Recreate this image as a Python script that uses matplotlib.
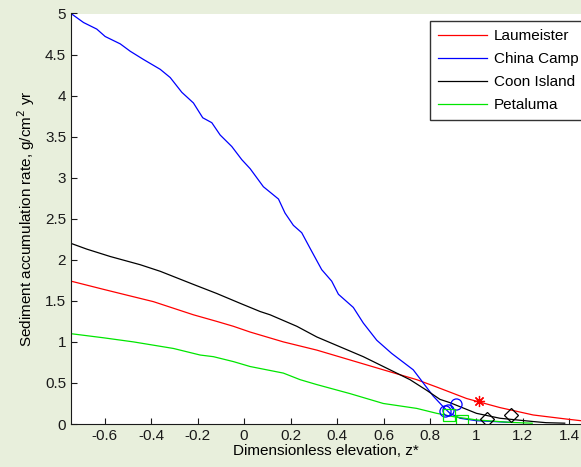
import numpy as np
import matplotlib.pyplot as plt
from matplotlib.ticker import FuncFormatter, MultipleLocator

plt.rcParams['font.family'] = ['Liberation Sans', 'DejaVu Sans']
plt.rcParams['axes.unicode_minus'] = False

# Laumeister (red)
laum_z = [-0.745, -0.605, -0.505, -0.39, -0.304, -0.218, -0.118, -0.046, 0.026, 0.169,
          0.313, 0.456, 0.599, 0.743, 0.829, 0.958, 1.101, 1.244, 1.388, 1.45]
laum_r = [1.74, 1.64, 1.57, 1.49, 1.41, 1.33, 1.25, 1.19, 1.12, 1.00,
          0.90, 0.78, 0.66, 0.54, 0.45, 0.31, 0.20, 0.11, 0.06, 0.04]

# China Camp (blue)
cc_z = [-0.745, -0.691, -0.634, -0.598, -0.533, -0.49, -0.433, -0.361, -0.318, -0.268,
        -0.218, -0.178, -0.139, -0.103, -0.053, -0.01, 0.026, 0.083, 0.148, 0.176,
        0.212, 0.248, 0.284, 0.334, 0.377, 0.406, 0.47, 0.513, 0.571, 0.635,
        0.728, 0.771, 0.814, 0.857, 0.886, 0.929, 1.0, 1.144]
cc_r = [5.0, 4.89, 4.81, 4.72, 4.63, 4.54, 4.44, 4.32, 4.22, 4.04,
        3.91, 3.73, 3.67, 3.52, 3.38, 3.22, 3.11, 2.89, 2.74, 2.57,
        2.42, 2.33, 2.14, 1.88, 1.74, 1.58, 1.42, 1.23, 1.02, 0.86,
        0.66, 0.50, 0.34, 0.21, 0.13, 0.07, 0.04, 0.02]

# Coon Island (black)
coon_z = [-0.745, -0.677, -0.576, -0.447, -0.361, -0.218, -0.118, -0.017, 0.069, 0.112,
          0.227, 0.313, 0.413, 0.513, 0.628, 0.714, 0.786, 0.843, 0.886, 1.0,
          1.101, 1.244, 1.30, 1.38]
coon_r = [2.20, 2.13, 2.04, 1.94, 1.86, 1.70, 1.59, 1.47, 1.37, 1.33,
          1.19, 1.06, 0.94, 0.82, 0.66, 0.54, 0.41, 0.30, 0.26, 0.13,
          0.07, 0.03, 0.016, 0.01]

# Petaluma (green)
pet_z = [-0.745, -0.605, -0.476, -0.39, -0.304, -0.189, -0.132, -0.046, 0.026, 0.169,
         0.241, 0.313, 0.456, 0.599, 0.743, 0.829, 0.9, 1.0, 1.144, 1.24]
pet_r = [1.10, 1.05, 1.00, 0.96, 0.92, 0.84, 0.82, 0.76, 0.70, 0.62,
         0.54, 0.48, 0.37, 0.25, 0.19, 0.13, 0.09, 0.05, 0.02, 0.01]

# measured points
laum_obs_z, laum_obs_r = [1.01], [0.285]
cc_obs_z, cc_obs_r = [0.865, 0.878, 0.912], [0.16, 0.17, 0.24]
coon_obs_z, coon_obs_r = [1.046, 1.150], [0.06, 0.11]
pet_obs_z, pet_obs_r = [0.880, 0.939], [0.105, 0.04]

bg = '#e8efdc'
fs = 11
fig = plt.figure(figsize=(5.81, 4.67), dpi=100, facecolor=bg)
ax = fig.add_axes([71/581, 43/467, 510/581, 410.5/467])

lw = 0.9
green = '#00e600'
ax.plot(laum_z, laum_r, color='#ff0000', lw=lw, label='Laumeister')
ax.plot(cc_z, cc_r, color='#0000ff', lw=lw, label='China Camp')
ax.plot(coon_z, coon_r, color='#000000', lw=lw, label='Coon Island')
ax.plot(pet_z, pet_r, color=green, lw=lw, label='Petaluma')

ax.plot(laum_obs_z, laum_obs_r, ls='none', marker=(8, 2, 0), ms=8, mec='#ff0000', mew=0.9)
ax.plot(cc_obs_z, cc_obs_r, ls='none', marker='o', ms=8, mfc='none', mec='#0000ff', mew=0.9)
ax.plot(coon_obs_z, coon_obs_r, ls='none', marker='D', ms=7, mfc='none', mec='#000000', mew=0.9)
ax.plot(pet_obs_z, pet_obs_r, ls='none', marker='s', ms=8, mfc='none', mec=green, mew=0.9)

ax.set_xlim(-0.745, 1.45)
ax.set_ylim(0, 5)
ax.xaxis.set_major_locator(MultipleLocator(0.2))
ax.yaxis.set_major_locator(MultipleLocator(0.5))
fmt = FuncFormatter(lambda v, p: '%g' % round(v, 2))
ax.xaxis.set_major_formatter(fmt)
ax.yaxis.set_major_formatter(fmt)
ax.tick_params(direction='in', length=4, width=0.8, labelsize=fs, colors='#1a1a1a')
ax.spines['top'].set_visible(False)
ax.spines['right'].set_visible(False)
ax.spines['left'].set_color('#1a1a1a')
ax.spines['bottom'].set_color('#1a1a1a')

ax.set_xlabel('Dimensionless elevation, z*', fontsize=fs, labelpad=1)
ax.set_ylabel('Sediment accumulation rate, g/cm$^2$ yr', fontsize=fs, labelpad=6)

leg = ax.legend(loc='upper left', bbox_to_anchor=(430/581, 1 - 21/467),
                bbox_transform=fig.transFigure, fontsize=fs, frameon=True,
                fancybox=False, edgecolor='black', handlelength=3.2,
                borderpad=0.55, labelspacing=0.58, handletextpad=0.45,
                borderaxespad=0)
leg.get_frame().set_linewidth(1.0)

fig.savefig('out.png', dpi=100, facecolor=bg)
